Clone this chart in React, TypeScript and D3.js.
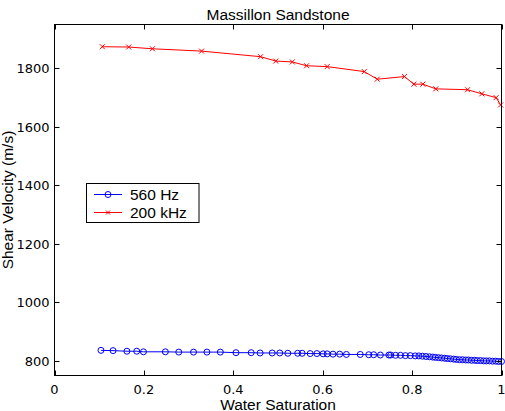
import React from "react";
import * as d3 from "d3";

const title = "Massillon Sandstone";
const xLabel = "Water Saturation";
const yLabel = "Shear Velocity (m/s)";
const seriesNames = ["560 Hz", "200 kHz"];
const xTicks = [0, 0.2, 0.4, 0.6, 0.8, 1];
const xTickLabels = ["0", "0.2", "0.4", "0.6", "0.8", "1"];
const yTicks = [800, 1000, 1200, 1400, 1600, 1800];

const redX = [0.107, 0.166, 0.219, 0.329, 0.461, 0.495, 0.532, 0.564, 0.61, 0.693, 0.722, 0.783, 0.804, 0.824, 0.853, 0.924, 0.956, 0.988, 0.998];
const redY = [1874, 1873, 1867, 1859, 1840, 1825, 1822, 1809, 1806, 1789, 1763, 1772, 1746, 1746, 1730, 1727, 1713, 1700, 1675];

const blueX = [0.104, 0.131, 0.162, 0.184, 0.199, 0.248, 0.278, 0.311, 0.341, 0.371, 0.406, 0.44, 0.46, 0.487, 0.504, 0.522, 0.544, 0.554, 0.572, 0.587, 0.601, 0.61, 0.623, 0.638, 0.653, 0.684, 0.703, 0.714, 0.729, 0.748, 0.752, 0.763, 0.774, 0.785, 0.796, 0.807, 0.815, 0.823, 0.831, 0.839, 0.846, 0.852, 0.859, 0.866, 0.873, 0.879, 0.886, 0.893, 0.899, 0.906, 0.913, 0.92, 0.926, 0.933, 0.94, 0.946, 0.953, 0.96, 0.966, 0.973, 0.98, 0.987, 0.993, 1.0];
const blueY = [836, 835, 833, 833, 831, 831, 830, 830, 830, 830, 828, 828, 827, 827, 827, 826, 826, 826, 825, 825, 824, 824, 823, 823, 822, 822, 821, 821, 820, 820, 820, 819, 819, 818, 818, 817, 817, 816, 815, 814, 813, 812, 811, 810, 809, 808, 807, 806, 805, 804, 804, 803, 803, 802, 802, 801, 801, 800, 800, 800, 799, 799, 798, 798];

const W = 505;
const H = 411;
const L = 54.5, R = 501.5, T = 24.5, B = 375.5;
const TICKFONT = "DejaVu Sans, Arial, sans-serif";
const FONT = "Liberation Sans, Arial, Helvetica, sans-serif";

export default function App() {
  const x = d3.scaleLinear().domain([0, 1]).range([L, R]);
  const y = d3.scaleLinear().domain([750, 1950]).range([B, T]);
  const line = d3.line<[number, number]>().x((d) => x(d[0])).y((d) => y(d[1]));
  const red: [number, number][] = redX.map((v, i) => [v, redY[i]]);
  const blue: [number, number][] = blueX.map((v, i) => [v, blueY[i]]);
  const tl = 5;
  const cross = (cx: number, cy: number, s: number, k: string) => (
    <path key={k} d={`M${cx - s},${cy - s}L${cx + s},${cy + s}M${cx - s},${cy + s}L${cx + s},${cy - s}`} stroke="#ff0000" strokeWidth={1} fill="none" />
  );
  const legX = 86.5, legY = 183.5, legW = 112.5, legH = 39;
  return (
    <svg width={W} height={H} style={{ position: "absolute", left: 0, top: 0, background: "#fff" }} fontFamily={FONT}>
      <rect x={0} y={0} width={W} height={H} fill="#fff" />
      <path d={line(blue) || ""} stroke="#0000ff" strokeWidth={1} fill="none" />
      {blue.map((d, i) => (
        <circle key={"b" + i} cx={x(d[0])} cy={y(d[1])} r={3} stroke="#0000ff" strokeWidth={1} fill="none" />
      ))}
      <path d={line(red) || ""} stroke="#ff0000" strokeWidth={1} fill="none" />
      {red.map((d, i) => cross(x(d[0]), y(d[1]), 2.5, "r" + i))}
      <rect x={L} y={T} width={R - L} height={B - T} fill="none" stroke="#000" strokeWidth={1} />
      {xTicks.map((t, i) => (
        <g key={"xt" + i}>
          <line x1={Math.round(x(t)) + 0.5} x2={Math.round(x(t)) + 0.5} y1={B} y2={B - tl} stroke="#000" />
          <line x1={Math.round(x(t)) + 0.5} x2={Math.round(x(t)) + 0.5} y1={T} y2={T + tl} stroke="#000" />
          <text x={x(t)} y={393.5} fontSize={13} fontFamily={TICKFONT} textAnchor="middle" fill="#000">{xTickLabels[i]}</text>
        </g>
      ))}
      {yTicks.map((t, i) => (
        <g key={"yt" + i}>
          <line x1={L} x2={L + tl} y1={Math.round(y(t)) + 0.5} y2={Math.round(y(t)) + 0.5} stroke="#000" />
          <line x1={R} x2={R - tl} y1={Math.round(y(t)) + 0.5} y2={Math.round(y(t)) + 0.5} stroke="#000" />
          <text x={49.5} y={y(t)} dy="0.36em" fontSize={13} fontFamily={TICKFONT} textAnchor="end" fill="#000">{t}</text>
        </g>
      ))}
      <text x={(L + R) / 2} y={20} fontSize={15.5} textAnchor="middle" fill="#000">{title}</text>
      <text x={(L + R) / 2} y={409.5} fontSize={15.5} textAnchor="middle" fill="#000">{xLabel}</text>
      <text transform={`translate(13,${(T + B) / 2}) rotate(-90)`} fontSize={15.5} textAnchor="middle" fill="#000">{yLabel}</text>
      <rect x={legX} y={legY} width={legW} height={legH} fill="#fff" stroke="#000" strokeWidth={1} />
      <line x1={94} x2={122} y1={194.5} y2={194.5} stroke="#0000ff" />
      <circle cx={108} cy={194.5} r={3} stroke="#0000ff" fill="none" />
      <text x={130} y={194.5} dy="0.36em" fontSize={15.5} fill="#000">{seriesNames[0]}</text>
      <line x1={94} x2={122} y1={212.5} y2={212.5} stroke="#ff0000" />
      {cross(108, 212.5, 2, "lg")}
      <text x={130} y={212.5} dy="0.36em" fontSize={15.5} fill="#000">{seriesNames[1]}</text>
    </svg>
  );
}
